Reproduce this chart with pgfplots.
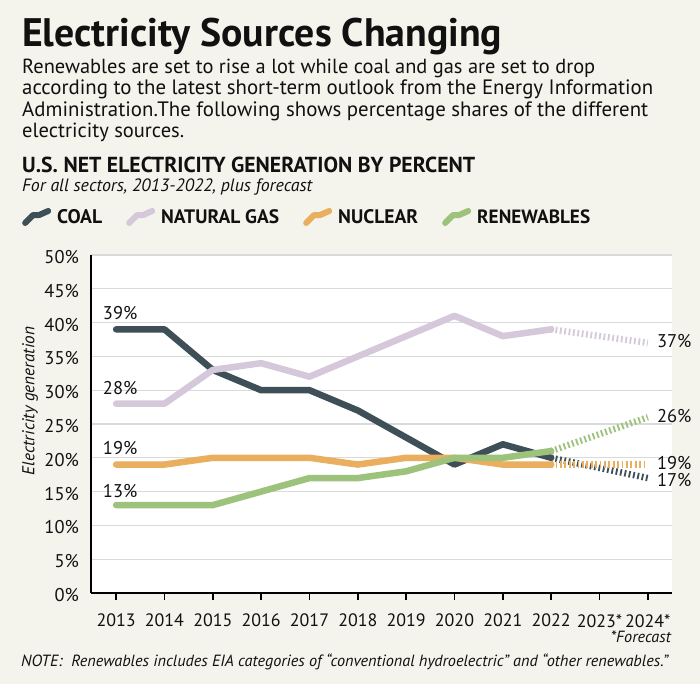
\documentclass[border=0pt]{standalone}
\usepackage{fontspec}
\setmainfont{PT Sans}
\usepackage{graphicx}
\usepackage{pgfplots}
\pgfplotsset{compat=1.18}
\definecolor{bg}{HTML}{F4F3EC}
\definecolor{coalc}{HTML}{3E4F57}
\definecolor{gasc}{HTML}{D5C8DA}
\definecolor{nucc}{HTML}{E9AF5E}
\definecolor{renc}{HTML}{9DC27B}
\definecolor{gridc}{HTML}{DADADA}
\definecolor{txt}{HTML}{111111}
\newcommand{\fw}[2]{\resizebox{#1}{!}{#2}}
\begin{document}
\begin{tikzpicture}[x=1bp,y=1bp]
\fill[bg] (0,0) rectangle (700,684);
\path[use as bounding box] (0,0) rectangle (700,684);
% header texts
\node[anchor=base west, inner sep=0, text=txt] at (22,637) {\fw{480bp}{\fontsize{36}{40}\selectfont\bfseries Electricity Sources Changing}};
\node[anchor=base west, inner sep=0, text=txt] at (22,610) {\fw{573bp}{\fontsize{18.5}{21}\selectfont Renewables are set to rise a lot while coal and gas are set to drop}};
\node[anchor=base west, inner sep=0, text=txt] at (22,589) {\fw{631bp}{\fontsize{18.5}{21}\selectfont according to the latest short-term outlook from the Energy Information}};
\node[anchor=base west, inner sep=0, text=txt] at (22,567) {\fw{626bp}{\fontsize{18.5}{21}\selectfont Administration.The following shows percentage shares of the different}};
\node[anchor=base west, inner sep=0, text=txt] at (22,546) {\fw{162bp}{\fontsize{18.5}{21}\selectfont electricity sources.}};
\node[anchor=base west, inner sep=0, text=txt] at (22,511) {\fw{453bp}{\fontsize{20}{22}\selectfont\bfseries U.S. NET ELECTRICITY GENERATION BY PERCENT}};
\node[anchor=base west, inner sep=0, text=txt] at (22,492) {\fw{290bp}{\fontsize{17}{20}\selectfont\itshape For all sectors, 2013-2022, plus forecast}};
% footer texts
\node[anchor=base east, inner sep=0, text=txt] at (671,41) {\fw{60bp}{\fontsize{17}{20}\selectfont\itshape *Forecast}};
\node[anchor=base west, inner sep=0, text=txt] at (21,17) {\fw{647bp}{\fontsize{17}{20}\selectfont\itshape NOTE:~~Renewables includes EIA categories of “conventional hydroelectric” and “other renewables.”}};
% y label
\node[rotate=90, inner sep=0, text=txt] at (30,283) {\fw{148bp}{\fontsize{18}{20}\selectfont\itshape Electricity generation}};
\begin{axis}[
  at={(91bp,91bp)}, anchor=south west,
  scale only axis, width=581bp, height=338bp,
  xmin=-0.52, xmax=11.5, ymin=0, ymax=50,
  axis x line=bottom, axis y line=left,
  axis line style={-, line width=2.5bp, black},
  axis background/.style={fill=white},
  ymajorgrids, grid style={gridc, line width=1.3bp},
  ytick={0,5,...,50},
  yticklabels={0\%,5\%,10\%,15\%,20\%,25\%,30\%,35\%,40\%,45\%,50\%},
  ytick style={draw=none},
  yticklabel style={font=\fontsize{18.5}{20}\selectfont, text=txt, inner sep=0pt, anchor=east, xshift=-5bp, yshift=-2bp},
  xtick={0,...,11},
  xticklabels={2013,2014,2015,2016,2017,2018,2019,2020,2021,2022,2023*,2024*},
  xtick style={black, line width=1.6bp},
  major tick length=7bp, tick align=outside,
  xticklabel style={font=\fontsize{18}{20}\selectfont, text=txt, inner sep=0pt, anchor=north, yshift=-14bp},
  clip=false,
  legend columns=-1,
  legend style={at={(-0.1188,1.1124)}, anchor=west, draw=none, fill=none, inner sep=0pt,
    font=\fontsize{18.5}{20}\selectfont\bfseries, text=txt,
    nodes={inner sep=0pt},
    /tikz/every odd column/.style={column sep=6bp},
    /tikz/every even column/.style={column sep=24bp}},
  legend image code/.code={\draw[#1, line width=6bp, line cap=round, line join=round, solid] (0bp,-6bp) -- (8bp,2bp) -- (14bp,2bp) -- (23bp,6bp);},
  every axis plot/.append style={line width=6.5bp, line join=round},
]
\addplot[coalc, line cap=round] coordinates {(0,39)(1,39)(2,33)(3,30)(4,30)(5,27)(6,23)(7,19)(8,22)(9,20)};
\addlegendentry{\fw{45bp}{COAL}}
\addplot[gasc, line cap=round] coordinates {(0,28)(1,28)(2,33)(3,34)(4,32)(5,35)(6,38)(7,41)(8,38)(9,39)};
\addlegendentry{\fw{118bp}{NATURAL GAS}}
\addplot[nucc, line cap=round] coordinates {(0,19)(1,19)(2,20)(3,20)(4,20)(5,19)(6,20)(7,20)(8,19)(9,19)};
\addlegendentry{\fw{80bp}{NUCLEAR}}
\addplot[renc, line cap=round] coordinates {(0,13)(1,13)(2,13)(3,15)(4,17)(5,17)(6,18)(7,20)(8,20)(9,21)};
\addlegendentry{\fw{113bp}{RENEWABLES}}
% forecasts
\addplot[coalc, dash pattern=on 1.8bp off 2.6bp, forget plot] coordinates {(9,20)(10,18.5)(11,17)};
\addplot[gasc, dash pattern=on 1.8bp off 2.6bp, forget plot] coordinates {(9,39)(10,38)(11,37)};
\addplot[nucc, dash pattern=on 1.8bp off 2.6bp, forget plot] coordinates {(9,19)(10,19)(11,19)};
\addplot[renc, dash pattern=on 1.8bp off 2.6bp, forget plot] coordinates {(9,21)(10,23.5)(11,26)};
% value labels
\begin{scope}[every node/.style={font=\fontsize{18.5}{20}\selectfont, text=txt, inner sep=0pt}]
\node[anchor=base, xshift=4bp, yshift=10bp] at (axis cs:0,39) {39\%};
\node[anchor=base, xshift=4bp, yshift=9bp] at (axis cs:0,28) {28\%};
\node[anchor=base, xshift=4bp, yshift=10bp] at (axis cs:0,19) {19\%};
\node[anchor=base, xshift=4bp, yshift=8bp] at (axis cs:0,13) {13\%};
\node[anchor=west, xshift=9bp] at (axis cs:11,37.3) {37\%};
\node[anchor=west, xshift=9bp] at (axis cs:11,26.2) {26\%};
\node[anchor=west, xshift=9bp] at (axis cs:11,19.2) {19\%};
\node[anchor=west, xshift=9bp] at (axis cs:11,16.7) {17\%};
\end{scope}
\end{axis}
\end{tikzpicture}
\end{document}
